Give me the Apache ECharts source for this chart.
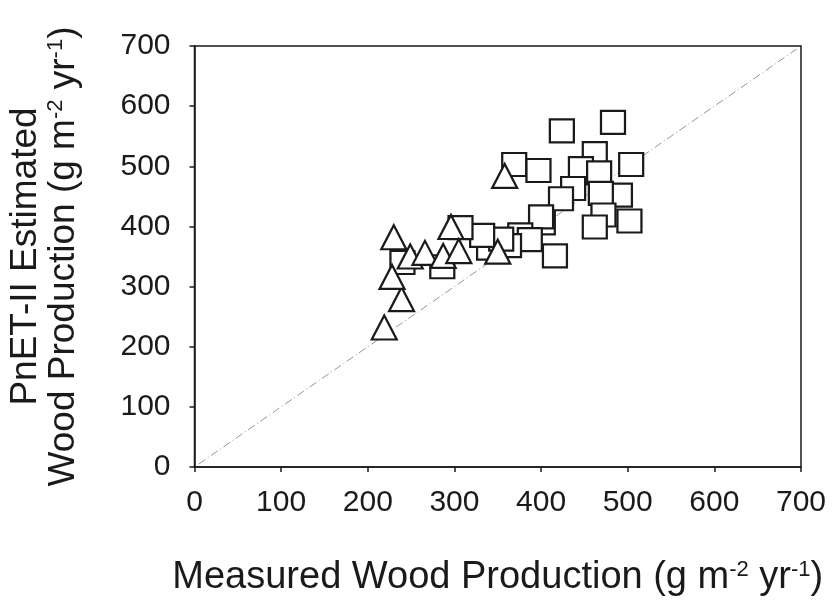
<!DOCTYPE html>
<html>
<head>
<meta charset="utf-8">
<script src="https://cdn.jsdelivr.net/npm/echarts@6/dist/echarts.min.js"></script>
<style>
html,body{margin:0;padding:0;background:#fff;}
#chart{width:835px;height:607px;}
</style>
</head>
<body>
<div id="chart"></div>
<script>
// Squares: measured (x) vs PnET-II estimated (y) wood production
const squareX = [424,483,462,369,397,446,504,467,437,423,491,469,472,462,502,402,400,416,376,387,363,340,354,332,307,286,240];
const squareY = [559,573,521,503,493,496,503,489,463,446,452,455,419,399,409,406,416,351,386,378,368,364,379,385,398,333,340];
// Triangles
const triX = [219,239,228,230,249,266,287,296,305,350,358];
const triY = [232,279,316,382,350,356,351,399,359,358,484];
// 1:1 reference line endpoints
const lineX = [5,695];
const lineY = [5,695];
// Axis ticks
const axisMin = 0, axisMax = 700, axisStep = 100;

const font = '"Liberation Sans", Arial, sans-serif';
const ink = '#1a1a1a';

const chart = echarts.init(document.getElementById('chart'));
chart.setOption({
  animation: false,
  backgroundColor: '#fff',
  grid: {left: 194.5, right: 34, top: 46, bottom: 140, containLabel: false, outerBoundsMode: 'none',
         show: true, borderColor: ink, borderWidth: 1.5, backgroundColor: 'transparent'},
  xAxis: {
    type: 'value', min: axisMin, max: axisMax, interval: axisStep,
    axisLine: {show: true, onZero: false, lineStyle: {color: ink, width: 1.5}},
    axisTick: {show: true, inside: false, length: 5, lineStyle: {color: ink, width: 1.5}},
    axisLabel: {color: ink, fontSize: 30, fontFamily: font, margin: 21},
    splitLine: {show: false},
    name: '{t|Measured Wood Production (g m}{s|-2}{t| yr}{s|-1}{t|)}',
    nameLocation: 'middle', nameGap: 92,
    nameTextStyle: {
      rich: {
        t: {fontSize: 38, fontFamily: font, color: ink},
        s: {fontSize: 22, fontFamily: font, color: ink, verticalAlign: 'top', padding: [0,0,15,0]}
      }
    }
  },
  yAxis: {
    type: 'value', min: axisMin, max: axisMax, interval: axisStep,
    axisLine: {show: true, onZero: false, lineStyle: {color: ink, width: 1.5}},
    axisTick: {show: true, inside: false, length: 5, lineStyle: {color: ink, width: 1.5}},
    axisLabel: {color: ink, fontSize: 30, fontFamily: font, margin: 24},
    splitLine: {show: false},
    name: '{t|PnET-II Estimated}\n{t|Wood Production (g m}{s|-2}{t| yr}{s|-1}{t|)}',
    nameLocation: 'middle', nameGap: 112, nameRotate: 90,
    nameTextStyle: {
      lineHeight: 38,
      rich: {
        t: {fontSize: 37, fontFamily: font, color: ink, lineHeight: 38},
        s: {fontSize: 22, fontFamily: font, color: ink, verticalAlign: 'top', padding: [0,0,14,0], lineHeight: 38}
      }
    }
  },
  series: [
    {
      type: 'line', data: lineX.map((x, i) => [x, lineY[i]]),
      symbol: 'none', silent: true, z: 1,
      lineStyle: {color: '#8a8a8a', width: 0.9, type: [8,3,1,3]}
    },
    {
      type: 'scatter', data: squareX.map((x, i) => [x, squareY[i]]),
      symbol: 'rect', symbolSize: [24, 23], z: 2,
      itemStyle: {color: '#fff', borderColor: ink, borderWidth: 2.2, opacity: 1}
    },
    {
      type: 'scatter', data: triX.map((x, i) => [x, triY[i]]),
      symbol: 'triangle', symbolSize: [25, 24], z: 3,
      itemStyle: {color: '#fff', borderColor: ink, borderWidth: 2.2, opacity: 1}
    }
  ]
});
</script>
</body>
</html>
